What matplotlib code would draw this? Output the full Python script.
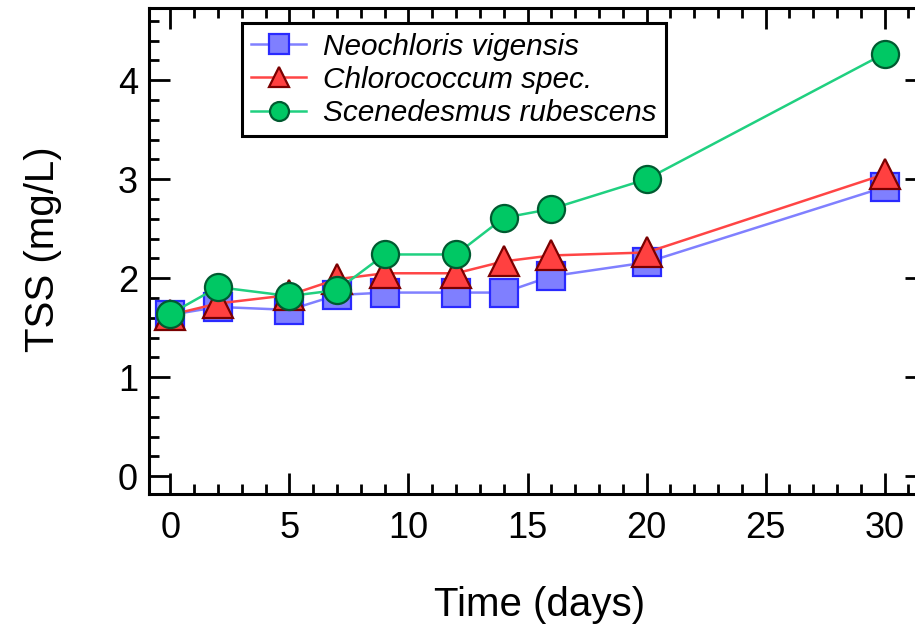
import matplotlib
matplotlib.use("Agg")
import matplotlib.pyplot as plt
from matplotlib.ticker import MultipleLocator

plt.rcParams['font.family'] = ['Liberation Sans', 'DejaVu Sans']

days_nv = [0, 2, 5, 7, 9, 12, 14, 16, 20, 30]
tss_nv = [1.63, 1.71, 1.68, 1.83, 1.855, 1.855, 1.855, 2.02, 2.16, 2.92]

days_cs = [0, 2, 5, 7, 9, 12, 14, 16, 20, 30]
tss_cs = [1.63, 1.745, 1.83, 1.99, 2.05, 2.05, 2.17, 2.23, 2.26, 3.05]

days_sr = [0, 2, 5, 7, 9, 12, 14, 16, 20, 30]
tss_sr = [1.64, 1.91, 1.82, 1.88, 2.24, 2.24, 2.61, 2.70, 3.00, 4.27]

labels = ["Neochloris vigensis", "Chlorococcum spec.", "Scenedesmus rubescens"]
x_ticks = [0, 5, 10, 15, 20, 25, 30]
y_ticks = [0, 1, 2, 3, 4]

fig = plt.figure(figsize=(9.15, 6.29), dpi=100)
ax = fig.add_axes([149/915, 1 - 494/629, (926 - 149)/915, (494 - 8)/629])

ax.plot(days_nv, tss_nv, color='#8080ff', lw=1.8, marker='s', ms=20,
        mfc='#7f7fff', mec='#2a2aff', mew=1.6, label=labels[0], zorder=3)
ax.plot(days_cs, tss_cs, color='#ff4545', lw=1.8, marker='^', ms=21,
        mfc='#ff4040', mec='#7a0000', mew=1.6, label=labels[1], zorder=4)
ax.plot(days_sr, tss_sr, color='#20d080', lw=1.8, marker='o', ms=19.5,
        mfc='#00c864', mec='#005a30', mew=1.6, label=labels[2], zorder=5)

ax.set_xlim(-0.9, 31.74)
ax.set_ylim(-0.18, 4.73)
ax.set_xticks(x_ticks)
ax.set_yticks(y_ticks)
ax.xaxis.set_minor_locator(MultipleLocator(1))
ax.yaxis.set_minor_locator(MultipleLocator(0.2))

for s in ax.spines.values():
    s.set_linewidth(2.2)
ax.tick_params(which='both', direction='in', top=True, right=True, width=2.0)
ax.tick_params(which='major', length=15)
ax.tick_params(which='minor', length=7.5)
ax.tick_params(axis='x', which='major', labelsize=26, pad=12)
ax.tick_params(axis='y', which='major', labelsize=26, pad=8)

ax.set_xlabel("Time (days)", fontsize=29)
ax.set_ylabel("TSS (mg/L)", fontsize=29)
ax.xaxis.set_label_coords(0.503, -0.19)
ax.yaxis.set_label_coords(-0.112, 0.504)

leg = ax.legend(loc='upper left', bbox_to_anchor=((241.7 - 149)/777, (494 - 23.3)/486),
                borderaxespad=0, prop={'style': 'italic', 'size': 21.4},
                markerscale=0.7, fancybox=False, frameon=True, handlelength=1.85,
                labelspacing=0.17, borderpad=0.32, handletextpad=0.55)
leg.get_frame().set_edgecolor('black')
leg.get_frame().set_linewidth(2.2)
leg.get_frame().set_alpha(1)

fig.savefig("out.png", dpi=100)
